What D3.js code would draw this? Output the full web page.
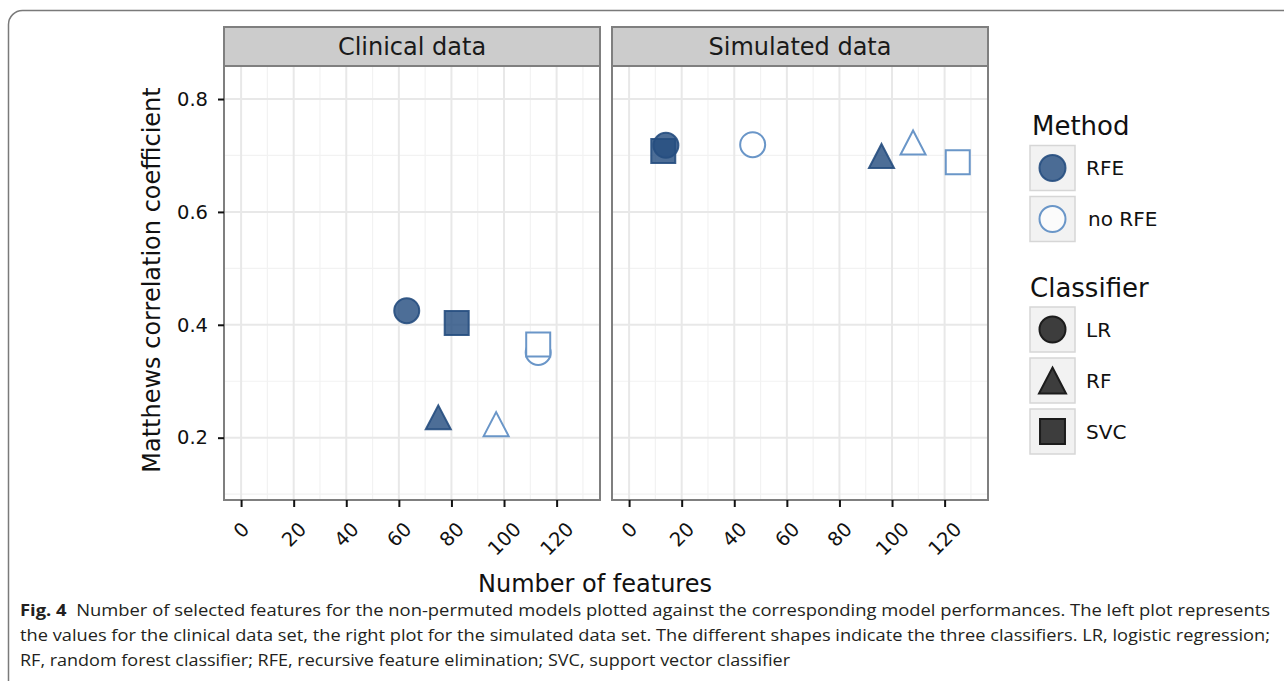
<!DOCTYPE html>
<html>
<head>
<meta charset="utf-8">
<script src="https://cdn.jsdelivr.net/npm/d3@7"></script>
<style>
  html, body { margin: 0; padding: 0; background: #fff; }
  svg { display: block; }
</style>
</head>
<body>
<svg id="chart" width="1284" height="681"></svg>
<script>
// Facet panels and factor levels
const panels = ["Clinical data", "Simulated data"];
const methods = ["RFE", "no RFE"];
const classifiers = ["LR", "RF", "SVC"];

// Number of selected features and MCC, ordered LR, RF, SVC
const clinicalRfeFeatures = [63, 75, 82];
const clinicalRfeMcc = [0.425, 0.236, 0.403];
const clinicalNoRfeFeatures = [113, 97, 113];
const clinicalNoRfeMcc = [0.351, 0.224, 0.365];
const simulatedRfeFeatures = [14, 96, 13];
const simulatedRfeMcc = [0.718, 0.699, 0.708];
const simulatedNoRfeFeatures = [47, 108, 125];
const simulatedNoRfeMcc = [0.719, 0.723, 0.688];

// Axis ticks
const xTicks = [0, 20, 40, 60, 80, 100, 120];
const xMinorTicks = [10, 30, 50, 70, 90, 110, 130];
const yTicks = [0.2, 0.4, 0.6, 0.8];
const yMinorTicks = [0.1, 0.3, 0.5, 0.7];

const captionLines = [
  "Number of selected features for the non-permuted models plotted against the corresponding model performances. The left plot represents",
  "the values for the clinical data set, the right plot for the simulated data set. The different shapes indicate the three classifiers. LR, logistic regression;",
  "RF, random forest classifier; RFE, recursive feature elimination; SVC, support vector classifier"
];

// Build rows in drawing order (open markers first, filled on top; LR drawn last among filled)
function rows(panel, feats, mccs, method, order) {
  return order.map(i => ({ panel, method, classifier: classifiers[i], x: feats[i], y: mccs[i] }));
}
const points = [
  ...rows(panels[0], clinicalNoRfeFeatures, clinicalNoRfeMcc, methods[1], [0, 1, 2]),
  ...rows(panels[0], clinicalRfeFeatures, clinicalRfeMcc, methods[0], [2, 1, 0]),
  ...rows(panels[1], simulatedNoRfeFeatures, simulatedNoRfeMcc, methods[1], [0, 1, 2]),
  ...rows(panels[1], simulatedRfeFeatures, simulatedRfeMcc, methods[0], [2, 1, 0])
];

const FONT = "'DejaVu Sans', Verdana, sans-serif";
const svg = d3.select("#chart");

// Outer figure frame
svg.append("rect")
  .attr("x", 8.5).attr("y", 10.5).attr("width", 1300).attr("height", 700)
  .attr("rx", 14).attr("fill", "none").attr("stroke", "#7a7a7a").attr("stroke-width", 1.5);

// Layout
const panelTop = 66, panelBottom = 500, stripTop = 27;
const panelX = [[224, 600], [612, 988]];

const y = d3.scaleLinear().domain([0.0896, 0.8585]).range([panelBottom, panelTop]);
const xScales = panelX.map(r => d3.scaleLinear().domain([-6.5, 136.5]).range(r));

const methodStyle = {
  "RFE": { fill: "rgb(38,78,128)", fillOpacity: 0.82, stroke: "rgb(38,78,128)", strokeOpacity: 0.9 },
  "no RFE": { fill: "#ffffff", fillOpacity: 1, stroke: "#6a96c8", strokeOpacity: 1 }
};

function shapePath(shape, s) {
  const h = s / 2;
  if (shape === "LR") {
    const p = d3.path(); p.moveTo(h, 0); p.arc(0, 0, h, 0, 2 * Math.PI); p.closePath(); return p.toString();
  }
  if (shape === "RF") {
    const hh = s * 0.48;
    return `M0,${-hh}L${h},${hh}L${-h},${hh}Z`;
  }
  const q = s * 0.48;
  return `M${-q},${-q}H${q}V${q}H${-q}Z`;
}

panels.forEach((name, pi) => {
  const x = xScales[pi];
  const [x0, x1] = panelX[pi];
  const g = svg.append("g");

  // panel background
  g.append("rect").attr("x", x0).attr("y", panelTop).attr("width", x1 - x0).attr("height", panelBottom - panelTop)
    .attr("fill", "#ffffff");

  // minor grid
  g.selectAll(".gxm").data(xMinorTicks.filter(t => x(t) < x1)).join("line")
    .attr("x1", d => x(d)).attr("x2", d => x(d)).attr("y1", panelTop).attr("y2", panelBottom)
    .attr("stroke", "#f2f2f2").attr("stroke-width", 1.2);
  g.selectAll(".gym").data(yMinorTicks).join("line")
    .attr("y1", d => y(d)).attr("y2", d => y(d)).attr("x1", x0).attr("x2", x1)
    .attr("stroke", "#f2f2f2").attr("stroke-width", 1.2);
  // major grid
  g.selectAll(".gx").data(xTicks).join("line")
    .attr("x1", d => x(d)).attr("x2", d => x(d)).attr("y1", panelTop).attr("y2", panelBottom)
    .attr("stroke", "#e8e8e8").attr("stroke-width", 2);
  g.selectAll(".gy").data(yTicks).join("line")
    .attr("y1", d => y(d)).attr("y2", d => y(d)).attr("x1", x0).attr("x2", x1)
    .attr("stroke", "#e8e8e8").attr("stroke-width", 2);

  // points
  g.selectAll(".pt").data(points.filter(p => p.panel === name)).join("path")
    .attr("transform", d => `translate(${x(d.x)},${y(d.y)})`)
    .attr("d", d => shapePath(d.classifier, 25))
    .attr("fill", d => methodStyle[d.method].fill)
    .attr("fill-opacity", d => methodStyle[d.method].fillOpacity)
    .attr("stroke", d => methodStyle[d.method].stroke)
    .attr("stroke-opacity", d => methodStyle[d.method].strokeOpacity)
    .attr("stroke-width", 2);

  // panel border
  g.append("rect").attr("x", x0).attr("y", panelTop).attr("width", x1 - x0).attr("height", panelBottom - panelTop)
    .attr("fill", "none").attr("stroke", "#7f7f7f").attr("stroke-width", 2);

  // facet strip
  g.append("rect").attr("x", x0).attr("y", stripTop).attr("width", x1 - x0).attr("height", panelTop - stripTop)
    .attr("fill", "#cccccc").attr("stroke", "#7f7f7f").attr("stroke-width", 2);
  g.append("text").attr("x", (x0 + x1) / 2).attr("y", (stripTop + panelTop) / 2)
    .attr("dy", "0.35em").attr("text-anchor", "middle")
    .attr("font-family", FONT).attr("font-size", 24).attr("fill", "#1a1a1a").text(name);

  // x axis
  const xAxis = d3.axisBottom(x).tickValues(xTicks).tickSize(7).tickPadding(0).tickFormat(d3.format("d"));
  const ax = g.append("g").attr("transform", `translate(0,${panelBottom})`).call(xAxis);
  ax.select(".domain").remove();
  ax.selectAll(".tick line").attr("stroke", "#111").attr("stroke-width", 2);
  ax.selectAll(".tick text").each(function () {
    const t = d3.select(this)
      .attr("font-family", FONT).attr("font-size", 19.5).attr("fill", "#111")
      .attr("y", 0).attr("dy", null).attr("text-anchor", "middle").attr("dominant-baseline", "central");
    const w = this.getComputedTextLength();
    const capH = 14;
    const half = (w + capH) / Math.SQRT2 / 2;
    t.attr("transform", `translate(0,${21 + half}) rotate(-45)`);
  });

  // y axis on the first panel only
  if (pi === 0) {
    const yAxis = d3.axisLeft(y).tickValues(yTicks).tickSize(6).tickPadding(10).tickFormat(d3.format(".1f"));
    const ay = g.append("g").attr("transform", `translate(${x0},0)`).call(yAxis);
    ay.select(".domain").remove();
    ay.selectAll(".tick line").attr("stroke", "#111").attr("stroke-width", 2);
    ay.selectAll(".tick text").attr("font-family", FONT).attr("font-size", 19.5).attr("fill", "#111");
  }
});

// axis titles
svg.append("text")
  .attr("transform", `translate(152,${(panelTop + panelBottom) / 2 - 3}) rotate(-90)`)
  .attr("text-anchor", "middle").attr("dy", "0.35em")
  .attr("font-family", FONT).attr("font-size", 24).attr("fill", "#111")
  .text("Matthews correlation coefficient");
svg.append("text")
  .attr("x", 595).attr("y", 592).attr("text-anchor", "middle")
  .attr("font-family", FONT).attr("font-size", 24).attr("fill", "#111")
  .text("Number of features");

// legends
const legend = svg.append("g");
function legendKey(yTop, shape, style, label, labelX, size) {
  legend.append("rect").attr("x", 1030).attr("y", yTop).attr("width", 45).attr("height", 45)
    .attr("fill", "#f2f2f2").attr("stroke", "#d6d6d6").attr("stroke-width", 1.5);
  legend.append("path").attr("transform", `translate(1052.5,${yTop + 22.5})`)
    .attr("d", shapePath(shape, size))
    .attr("fill", style.fill).attr("fill-opacity", style.fillOpacity)
    .attr("stroke", style.stroke).attr("stroke-opacity", style.strokeOpacity).attr("stroke-width", 2);
  legend.append("text").attr("x", labelX).attr("y", yTop + 22.5).attr("dy", "0.35em")
    .attr("font-family", FONT).attr("font-size", 20).attr("fill", "#111").text(label);
}
legend.append("text").attr("x", 1032).attr("y", 135)
  .attr("font-family", FONT).attr("font-size", 26).attr("fill", "#111").text("Method");
legendKey(145.5, "LR", methodStyle["RFE"], methods[0], 1086, 26);
legendKey(196.5, "LR", { fill: "#fbfbfb", fillOpacity: 1, stroke: "#6a96c8", strokeOpacity: 1 }, methods[1], 1088, 26);

legend.append("text").attr("x", 1030).attr("y", 297)
  .attr("font-family", FONT).attr("font-size", 26).attr("fill", "#111").text("Classifier");
const darkKey = { fill: "#3d3d3d", fillOpacity: 1, stroke: "#1c1c1c", strokeOpacity: 1 };
legendKey(307, "LR", darkKey, classifiers[0], 1086, 26);
legendKey(358, "RF", darkKey, classifiers[1], 1086, 27);
legendKey(409, "SVC", darkKey, classifiers[2], 1086, 26);

// caption
const CAP_FONT = "'Open Sans', 'Noto Sans', sans-serif";
const capEnds = [1270, 1270, null];
const capBase = [616, 641, 666];
captionLines.forEach((line, i) => {
  const t = svg.append("text").attr("x", 20).attr("y", capBase[i])
    .attr("font-family", CAP_FONT).attr("font-size", 16.5).attr("fill", "#231f20");
  if (i === 0) {
    t.append("tspan").attr("font-weight", "bold").text("Fig. 4");
    t.append("tspan").text("\u00a0\u00a0" + line);
  } else {
    t.text(line);
  }
  const target = capEnds[i] ? capEnds[i] - 20 : 770;
  t.attr("textLength", target).attr("lengthAdjust", "spacingAndGlyphs");
});
</script>
</body>
</html>
